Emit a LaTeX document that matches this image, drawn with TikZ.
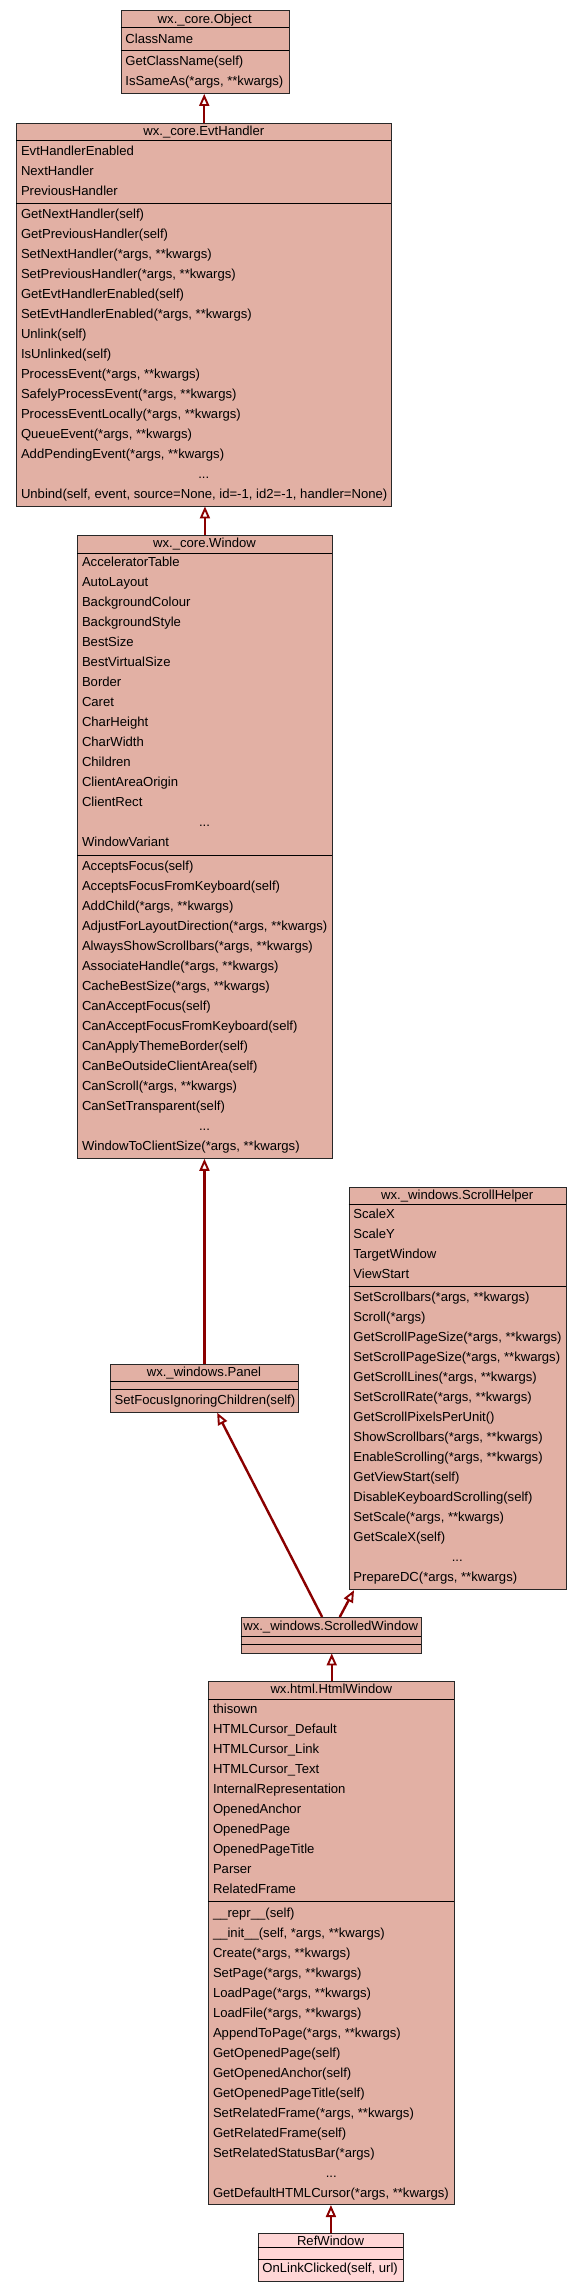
\documentclass[tikz,border=0pt]{standalone}
\usepackage{fontspec}
\setmainfont{Liberation Sans}
\usetikzlibrary{arrows.meta,calc}
\definecolor{clsfill}{RGB}{226,176,164}
\definecolor{reffill}{RGB}{255,214,214}
\definecolor{boxline}{RGB}{40,40,40}
\definecolor{edgecol}{RGB}{138,0,0}
% #1 name prefix, #2 x of text, #3 centre y of first row, #4 list
\newcommand\clsrows[4]{\foreach \rowtxt [count=\i from 0] in {#4} {\node[rowtext] (#1\i) at (#2,{-(#3+20*\i+4.8)}) {\rowtxt};}}
\newcommand\clsline[3]{\draw[sepline] (#1,-#3) -- (#2,-#3);}
\tikzset{
  clsbox/.style={draw=boxline, fill=clsfill, line width=0.9pt, inner sep=0pt, anchor=north west},
  refbox/.style={clsbox, fill=reffill},
  rowtext/.style={anchor=base west, inner sep=0pt},
  ttltext/.style={anchor=base, inner sep=0pt},
  sepline/.style={draw=black, line width=0.9pt},
  inh/.style={draw=edgecol, line width=2.4pt, -{Triangle[length=12pt,width=10pt,fill=white,line width=1.9pt]}},
  every node/.style={font=\fontsize{13.1}{15}\selectfont}
}
\begin{document}
\begin{tikzpicture}[x=1pt,y=1pt]
\fill[white] (0,0) rectangle (581,-2292);
\useasboundingbox (0,0) rectangle (581,-2292);

% ---------- wx._core.Object
\node[clsbox, minimum width=168pt, minimum height=82.7pt] (obj) at (120.7,-10.3) {};
\clsline{120.7}{288.7}{27.5}
\clsline{120.7}{288.7}{50.6}
\node[ttltext] (objt) at (204.7,-23.4) {wx.\_core.Object};
\clsrows{obja}{125.2}{38.6}{ClassName}
\clsrows{objm}{125.2}{60.6}{{GetClassName(self)},{IsSameAs(*args, **kwargs)}}

% ---------- wx._core.EvtHandler
\node[clsbox, minimum width=375pt, minimum height=382.6pt] (evt) at (16.3,-122.9) {};
\clsline{16.3}{391.3}{140.5}
\clsline{16.3}{391.3}{203.2}
\node[ttltext] (evtt) at (203.8,-135.3) {wx.\_core.EvtHandler};
\clsrows{evta}{20.8}{150.5}{EvtHandlerEnabled,NextHandler,PreviousHandler}
\clsrows{evtm}{20.8}{213.5}{{GetNextHandler(self)},{GetPreviousHandler(self)},{SetNextHandler(*args, **kwargs)},{SetPreviousHandler(*args, **kwargs)},{GetEvtHandlerEnabled(self)},{SetEvtHandlerEnabled(*args, **kwargs)},{Unlink(self)},{IsUnlinked(self)},{ProcessEvent(*args, **kwargs)},{SafelyProcessEvent(*args, **kwargs)},{ProcessEventLocally(*args, **kwargs)},{QueueEvent(*args, **kwargs)},{AddPendingEvent(*args, **kwargs)}}
\node[ttltext] (evtd) at (203.8,-478.3) {...};
\clsrows{evtl}{20.8}{493.5}{{Unbind(self, event, source=None, id=-1, id2=-1, handler=None)}}

% ---------- wx._core.Window
\node[clsbox, minimum width=254.4pt, minimum height=622.6pt] (win) at (77.3,-535.3) {};
\clsline{77.3}{331.7}{553.3}
\clsline{77.3}{331.7}{855.2}
\node[ttltext] (wint) at (204.5,-547.0) {wx.\_core.Window};
\clsrows{wina}{81.8}{562.1}{AcceleratorTable,AutoLayout,BackgroundColour,BackgroundStyle,BestSize,BestVirtualSize,Border,Caret,CharHeight,CharWidth,Children,ClientAreaOrigin,ClientRect}
\node[ttltext] (winad) at (204.5,-826.9) {...};
\clsrows{winal}{81.8}{842.1}{WindowVariant}
\clsrows{winm}{81.8}{865.6}{{AcceptsFocus(self)},{AcceptsFocusFromKeyboard(self)},{AddChild(*args, **kwargs)},{AdjustForLayoutDirection(*args, **kwargs)},{AlwaysShowScrollbars(*args, **kwargs)},{AssociateHandle(*args, **kwargs)},{CacheBestSize(*args, **kwargs)},{CanAcceptFocus(self)},{CanAcceptFocusFromKeyboard(self)},{CanApplyThemeBorder(self)},{CanBeOutsideClientArea(self)},{CanScroll(*args, **kwargs)},{CanSetTransparent(self)}}
\node[ttltext] (winmd) at (204.5,-1130.4) {...};
\clsrows{winml}{81.8}{1145.6}{{WindowToClientSize(*args, **kwargs)}}

% ---------- wx._windows.ScrollHelper
\node[clsbox, minimum width=217.3pt, minimum height=402.7pt] (sh) at (348.7,-1186.6) {};
\clsline{348.7}{566}{1204.2}
\clsline{348.7}{566}{1286.3}
\node[ttltext] (sht) at (457.3,-1199.2) {wx.\_windows.ScrollHelper};
\clsrows{sha}{353.2}{1214}{ScaleX,ScaleY,TargetWindow,ViewStart}
\clsrows{shm}{353.2}{1296.4}{{SetScrollbars(*args, **kwargs)},{Scroll(*args)},{GetScrollPageSize(*args, **kwargs)},{SetScrollPageSize(*args, **kwargs)},{GetScrollLines(*args, **kwargs)},{SetScrollRate(*args, **kwargs)},{GetScrollPixelsPerUnit()},{ShowScrollbars(*args, **kwargs)},{EnableScrolling(*args, **kwargs)},{GetViewStart(self)},{DisableKeyboardScrolling(self)},{SetScale(*args, **kwargs)},{GetScaleX(self)}}
\node[ttltext] (shd) at (457.3,-1561.2) {...};
\clsrows{shl}{353.2}{1576.4}{{PrepareDC(*args, **kwargs)}}

% ---------- wx._windows.Panel
\node[clsbox, minimum width=188pt, minimum height=48pt] (panel) at (110,-1363.8) {};
\clsline{110}{298}{1381.3}
\clsline{110}{298}{1389.7}
\node[ttltext] (panelt) at (204,-1376.3) {wx.\_windows.Panel};
\clsrows{panelm}{114.5}{1399.6}{{SetFocusIgnoringChildren(self)}}

% ---------- wx._windows.ScrolledWindow
\node[clsbox, minimum width=180pt, minimum height=35.5pt] (sw) at (240.7,-1617) {};
\clsline{240.7}{420.7}{1636.5}
\clsline{240.7}{420.7}{1644.5}
\node[ttltext] (swt) at (330.7,-1630.8) {wx.\_windows.ScrolledWindow};

% ---------- wx.html.HtmlWindow
\node[clsbox, minimum width=246pt, minimum height=523.1pt] (html) at (208.3,-1681) {};
\clsline{208.3}{454.3}{1699.1}
\clsline{208.3}{454.3}{1901}
\node[ttltext] (htmlt) at (331.3,-1693.4) {wx.html.HtmlWindow};
\clsrows{htmla}{212.8}{1708.4}{thisown,HTMLCursor\_Default,HTMLCursor\_Link,HTMLCursor\_Text,InternalRepresentation,OpenedAnchor,OpenedPage,OpenedPageTitle,Parser,RelatedFrame}
\clsrows{htmlm}{212.8}{1912.3}{{\_\_repr\_\_(self)},{\_\_init\_\_(self, *args, **kwargs)},{Create(*args, **kwargs)},{SetPage(*args, **kwargs)},{LoadPage(*args, **kwargs)},{LoadFile(*args, **kwargs)},{AppendToPage(*args, **kwargs)},{GetOpenedPage(self)},{GetOpenedAnchor(self)},{GetOpenedPageTitle(self)},{SetRelatedFrame(*args, **kwargs)},{GetRelatedFrame(self)},{SetRelatedStatusBar(*args)}}
\node[ttltext] (htmld) at (331.3,-2177.1) {...};
\clsrows{htmll}{212.8}{2192.3}{{GetDefaultHTMLCursor(*args, **kwargs)}}

% ---------- RefWindow
\node[refbox, minimum width=145.6pt, minimum height=47.5pt] (ref) at (257.7,-2233.2) {};
\clsline{257.7}{403.3}{2247.7}
\clsline{257.7}{403.3}{2259}
\node[ttltext] (reft) at (330.5,-2245.2) {RefWindow};
\clsrows{refm}{262.2}{2267.8}{{OnLinkClicked(self, url)}}

% ---------- inheritance connectors
\draw[inh] (evt.north) -- (evt.north |- obj.south);
\draw[inh] (win.north) -- (win.north |- evt.south);
\draw[inh] (panel.north) -- (panel.north |- win.south);
\draw[inh] ([xshift=-9pt]sw.north) -- ([xshift=12.7pt]panel.south);
\draw[inh] ([xshift=8.6pt]sw.north) -- ([xshift=5.3pt]sh.south west);
\draw[inh] (html.north) -- (html.north |- sw.south);
\draw[inh] (ref.north) -- (ref.north |- html.south);
\end{tikzpicture}
\end{document}
